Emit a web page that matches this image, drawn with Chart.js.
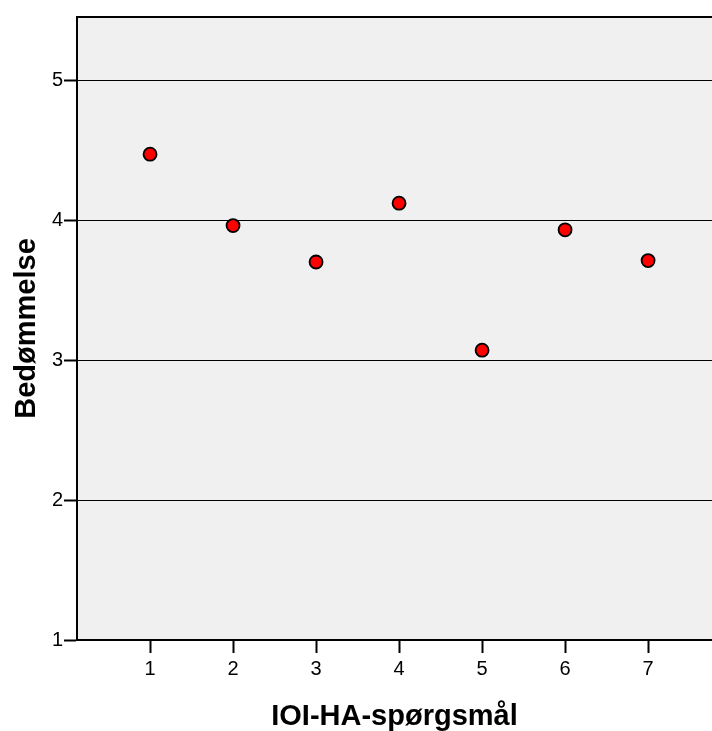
<!DOCTYPE html>
<html lang="da">
<head>
    <meta charset="UTF-8">
    <title>Bedømmelse pr. IOI-HA-spørgsmål</title>
    <script src="https://cdn.jsdelivr.net/npm/chart.js"></script>
    <style>
        html, body {
            margin: 0;
            padding: 0;
            background: #ffffff;
            overflow: hidden;
        }
        .chart-box {
            width: 712px;
            height: 731px;
        }
    </style>
</head>
<body>
    <div class="chart-box">
        <canvas id="plot" width="712" height="731"></canvas>
    </div>

    <script>
        // data
        const questions = [1, 2, 3, 4, 5, 6, 7];
        const ratings = [4.47, 3.96, 3.70, 4.12, 3.07, 3.93, 3.71];
        const xTicks = [1, 2, 3, 4, 5, 6, 7];
        const yTicks = [1, 2, 3, 4, 5];

        const fontFamily = '"Liberation Sans", Arial, Helvetica, sans-serif';

        // grey plot background + top frame line
        const plotFrame = {
            id: 'plotFrame',
            beforeDraw(chart) {
                const { ctx, chartArea: a } = chart;
                ctx.save();
                ctx.fillStyle = '#f0f0f0';
                ctx.fillRect(a.left, a.top, a.right - a.left, a.bottom - a.top);
                ctx.restore();
            },
            afterDraw(chart) {
                const { ctx, chartArea: a } = chart;
                ctx.save();
                ctx.strokeStyle = '#000000';
                ctx.lineWidth = 2;
                ctx.beginPath();
                ctx.moveTo(a.left, a.top);
                ctx.lineTo(a.right, a.top);
                ctx.stroke();
                ctx.restore();
            }
        };

        const ctx = document.getElementById('plot').getContext('2d');
        new Chart(ctx, {
            type: 'scatter',
            data: {
                datasets: [{
                    data: questions.map((q, i) => ({ x: q, y: ratings[i] })),
                    backgroundColor: '#ff0000',
                    borderColor: '#000000',
                    borderWidth: 1.8,
                    pointRadius: 6.5,
                    pointHoverRadius: 6.5
                }]
            },
            options: {
                responsive: false,
                animation: false,
                devicePixelRatio: 1,
                layout: {
                    autoPadding: false,
                    padding: { top: 17, left: 0, right: 0, bottom: 0 }
                },
                plugins: {
                    legend: { display: false },
                    tooltip: { enabled: false }
                },
                scales: {
                    x: {
                        type: 'linear',
                        min: 0.12,
                        max: 7.77,
                        afterBuildTicks: s => { s.ticks = xTicks.map(v => ({ value: v })); },
                        afterFit: s => {
                            s.height = 91;
                            s.paddingLeft = 0;
                            s.paddingRight = 0;
                        },
                        grid: {
                            drawOnChartArea: false,
                            drawTicks: true,
                            tickLength: 13,
                            tickColor: '#000000',
                            tickWidth: 2
                        },
                        border: { display: true, color: '#000000', width: 2 },
                        ticks: {
                            color: '#000000',
                            padding: 4,
                            font: { family: fontFamily, size: 20 }
                        },
                        title: {
                            display: true,
                            text: 'IOI-HA-spørgsmål',
                            color: '#000000',
                            padding: { top: 0, bottom: 0 },
                            font: { family: fontFamily, size: 29, weight: 'bold', lineHeight: 1 }
                        }
                    },
                    y: {
                        type: 'linear',
                        min: 1,
                        max: 5.45,
                        afterBuildTicks: s => { s.ticks = yTicks.map(v => ({ value: v })); },
                        afterFit: s => {
                            s.width = 77;
                            s.paddingTop = 0;
                            s.paddingBottom = 0;
                        },
                        grid: {
                            color: '#000000',
                            lineWidth: 1,
                            drawTicks: true,
                            tickLength: 13,
                            tickColor: '#000000',
                            tickWidth: 2
                        },
                        border: { display: true, color: '#000000', width: 2 },
                        ticks: {
                            color: '#000000',
                            padding: 1,
                            font: { family: fontFamily, size: 20 }
                        },
                        title: {
                            display: true,
                            text: 'Bedømmelse',
                            color: '#000000',
                            padding: { top: 12, bottom: 0 },
                            font: { family: fontFamily, size: 29, weight: 'bold', lineHeight: 1 }
                        }
                    }
                }
            },
            plugins: [plotFrame]
        });
    </script>
</body>
</html>
